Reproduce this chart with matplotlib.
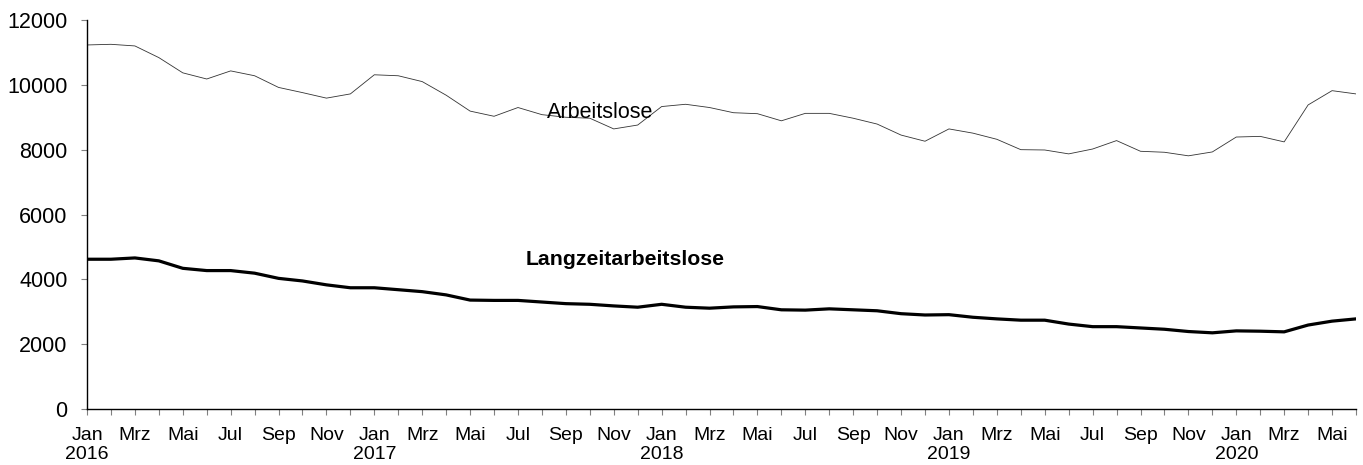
import numpy as np
import matplotlib.pyplot as plt

plt.rcParams['font.family'] = ['Liberation Sans', 'DejaVu Sans']

month_names = ["Jan", "Feb", "Mrz", "Apr", "Mai", "Jun",
               "Jul", "Aug", "Sep", "Okt", "Nov", "Dez"]
years = [2016, 2017, 2018, 2019, 2020]
n_months = 54  # Jan 2016 .. Jun 2020

arbeitslose = [
    11230, 11250, 11200, 10840, 10370, 10180, 10430, 10280, 9920, 9760, 9590, 9720,
    10310, 10280, 10100, 9680, 9190, 9030, 9300, 9080, 9000, 8970, 8640, 8760,
    9330, 9400, 9300, 9140, 9110, 8890, 9120, 9120, 8970, 8790, 8450, 8260,
    8640, 8510, 8320, 8000, 7990, 7870, 8020, 8280, 7950, 7920, 7810, 7930,
    8390, 8410, 8240, 9380, 9820, 9720,
]
langzeit = [
    4620, 4620, 4660, 4570, 4340, 4270, 4270, 4190, 4030, 3950, 3830, 3740,
    3740, 3680, 3620, 3520, 3360, 3350, 3350, 3300, 3250, 3230, 3180, 3140,
    3230, 3140, 3110, 3150, 3160, 3060, 3050, 3090, 3060, 3030, 2940, 2900,
    2910, 2830, 2780, 2740, 2740, 2620, 2540, 2540, 2500, 2460, 2390, 2350,
    2410, 2400, 2380, 2590, 2710, 2780,
]

x = np.arange(n_months)

# tick labels: every second month, year under January
labels = []
for i in range(n_months):
    m = i % 12
    if m % 2 == 1:
        labels.append("")
    elif m == 0:
        labels.append(f"{month_names[m]}\n{years[i // 12]}")
    else:
        labels.append(month_names[m])

fig = plt.figure(figsize=(13.63, 4.65), dpi=100)
ax = fig.add_axes([87 / 1363, 1 - 409 / 465, (1356 - 87) / 1363, (409 - 20) / 465])

ax.plot(x, arbeitslose, color='#333333', linewidth=0.6)
ax.plot(x, langzeit, color='black', linewidth=2.3)

ax.text(19.2, 9160, "Arbeitslose", fontsize=15.5, va='center', ha='left')
ax.text(18.3, 4600, "Langzeitarbeitslose", fontsize=15.3, fontweight='bold',
        va='center', ha='left')

ax.set_xlim(0, n_months - 1)
ax.set_ylim(0, 12000)
ax.set_yticks(np.arange(0, 12001, 2000))
ax.set_xticks(x)
ax.set_xticklabels(labels, fontsize=14, linespacing=1.15)
ax.tick_params(axis='y', labelsize=15.5, length=4, color='#808080', pad=10)
ax.tick_params(axis='x', length=4, color='#808080', pad=9)

for side in ['top', 'right']:
    ax.spines[side].set_visible(False)
for side in ['left', 'bottom']:
    ax.spines[side].set_linewidth(1.0)

fig.savefig("out.png", dpi=100)
